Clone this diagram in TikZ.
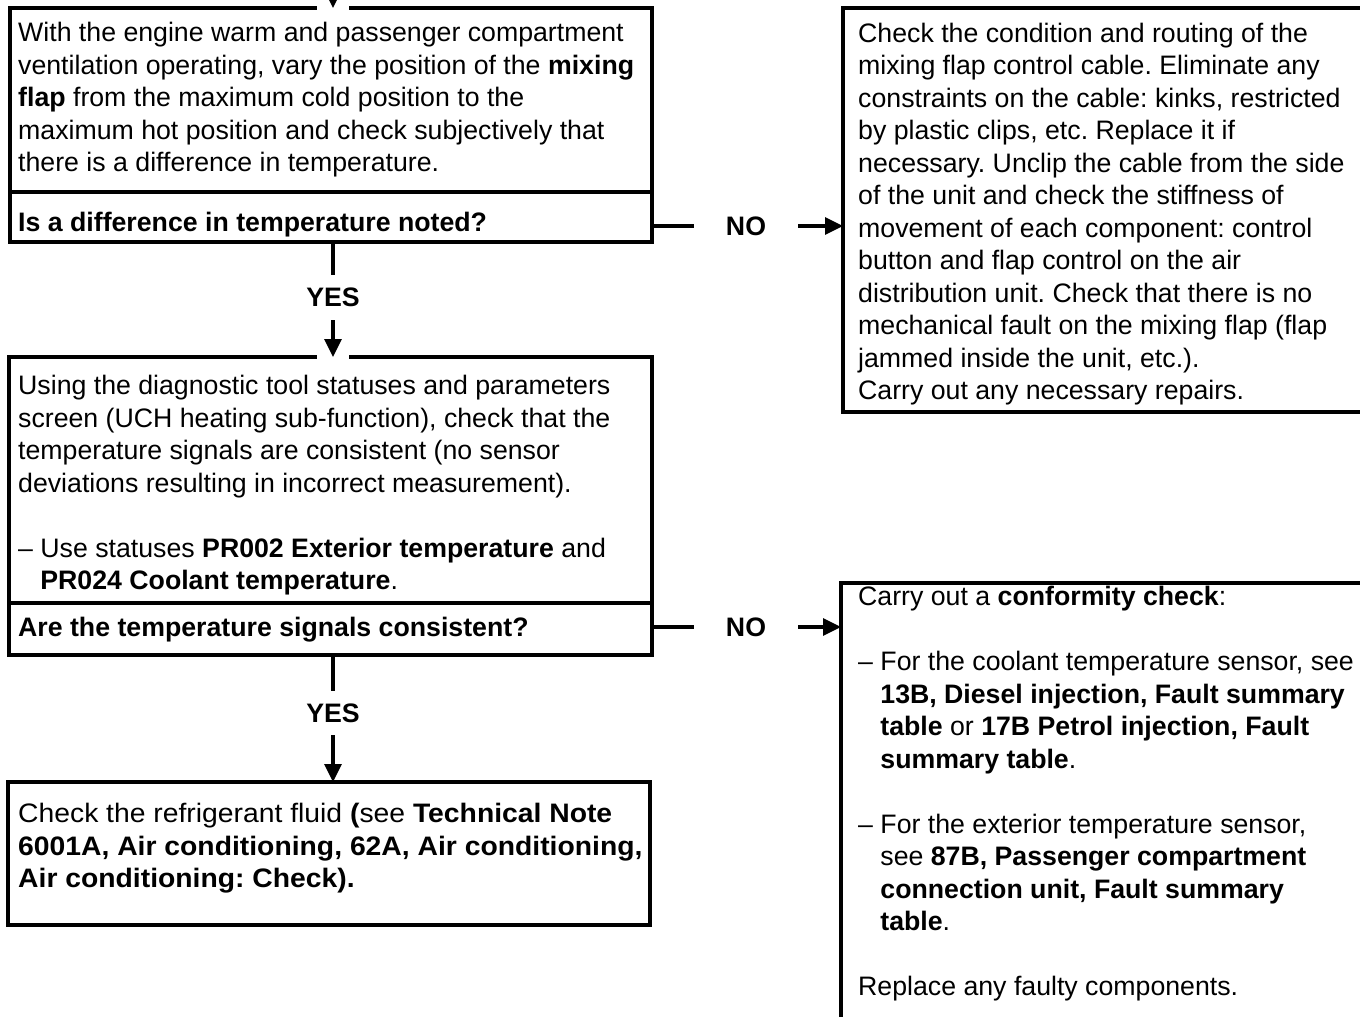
\documentclass[tikz,border=0pt]{standalone}
\usepackage{fontspec}
\setmainfont{Liberation Sans}
\usetikzlibrary{arrows.meta}
\frenchspacing
\newcommand\contindent{\hspace*{22.2pt}}
\begin{document}
\begin{tikzpicture}[x=1pt,y=-1pt,
  frame/.style={draw, line width=3.2pt, inner sep=0pt, outer sep=0pt, anchor=north west},
  body/.style={anchor=base west, inner sep=0pt, align=left, font=\fontsize{26.7}{32.5}\selectfont},
  lbl/.style={inner sep=0pt, font=\fontsize{26.7}{32.5}\selectfont\bfseries},
  link/.style={line width=3.2pt},
  arr/.style={link, -{Triangle[length=18pt,width=17pt]}},
  gap/.style={white, line width=5pt},
]
\useasboundingbox (0,0) rectangle (1360,1017);
\clip (0,0) rectangle (1360,1017);

% frames
\node[frame, minimum width=642pt, minimum height=234pt] (b1) at (10,8) {};
\node[frame, minimum width=600pt, minimum height=404pt] (r1) at (843,8) {};
\node[frame, minimum width=643pt, minimum height=298pt] (b2) at (9,357) {};
\node[frame, minimum width=600pt, minimum height=600pt] (r2) at (841,583) {};
\node[frame, minimum width=642pt, minimum height=143pt] (b3) at (8,782) {};

% dividers above the questions
\draw[link] ([yshift=-184pt]b1.north west) -- ([yshift=-184pt]b1.north east);
\draw[link] ([yshift=-246pt]b2.north west) -- ([yshift=-246pt]b2.north east);

% texts (each placed by the baseline of its last line)
\node[body] (t1) at (18,171.5) {With the engine warm and passenger compartment\\
ventilation operating, vary the position of the \textbf{mixing}\\
\textbf{flap} from the maximum cold position to the\\
maximum hot position and check subjectively that\\
there is a difference in temperature.};
\node[body, font=\fontsize{26.7}{32.5}\selectfont\bfseries] (q1) at (18,231.5) {Is a difference in temperature noted?};

\node[body] (tr1) at (858,399.5) {Check the condition and routing of the\\
mixing flap control cable. Eliminate any\\
constraints on the cable: kinks, restricted\\
by plastic clips, etc. Replace it if\\
necessary. Unclip the cable from the side\\
of the unit and check the stiffness of\\
movement of each component: control\\
button and flap control on the air\\
distribution unit. Check that there is no\\
mechanical fault on the mixing flap (flap\\
jammed inside the unit, etc.).\\
Carry out any necessary repairs.};

\node[body] (t2) at (18,589.5) {Using the diagnostic tool statuses and parameters\\
screen (UCH heating sub-function), check that the\\
temperature signals are consistent (no sensor\\
deviations resulting in incorrect measurement).\\[32.5pt]
– Use statuses \textbf{PR002 Exterior temperature} and\\
\contindent\textbf{PR024 Coolant temperature}.};
\node[body, font=\fontsize{26.7}{32.5}\selectfont\bfseries] (q2) at (18,636.5) {Are the temperature signals consistent?};

\node[body, font=\fontsize{26.7}{32.5}\selectfont\addfontfeatures{FakeStretch=1.06}] (t3) at (18,887.5) {Check the refrigerant fluid \textbf{(}see \textbf{Technical Note}\\
\textbf{6001A, Air conditioning, 62A, Air conditioning,}\\
\textbf{Air conditioning: Check).}};

\node[body] (tr2) at (858,995.5) {Carry out a \textbf{conformity check}:\\[32.5pt]
– For the coolant temperature sensor, see\\
\contindent\textbf{13B, Diesel injection, Fault summary}\\
\contindent\textbf{table} or \textbf{17B Petrol injection, Fault}\\
\contindent\textbf{summary table}.\\[32.5pt]
– For the exterior temperature sensor,\\
\contindent see \textbf{87B, Passenger compartment}\\
\contindent\textbf{connection unit, Fault summary}\\
\contindent\textbf{table}.\\[32.5pt]
Replace any faulty components.};

% branch labels
\node[lbl, minimum height=45pt] (yes1) at (333,297.5) {YES};
\node[lbl, minimum height=44pt] (yes2) at (333,713) {YES};
\node[lbl, minimum width=104pt] (no1) at (746,226) {NO};
\node[lbl, minimum width=104pt] (no2) at (746,627) {NO};
\coordinate (entry) at (333,-20);

% white breaks in the frame tops where arrows enter
\draw[gap] ([xshift=-16pt]b1.north -| entry) -- ([xshift=16pt]b1.north -| entry);
\draw[gap] ([xshift=-16pt]b2.north -| yes1) -- ([xshift=16pt]b2.north -| yes1);

% connectors
\draw[arr] (entry) -- (b1.north -| entry);
\draw[link] (b1.south -| yes1) -- (yes1.north);
\draw[arr] (yes1.south) -- (b2.north -| yes1);
\draw[link] (b1.east |- no1) -- (no1.west);
\draw[arr] (no1.east) -- (r1.west |- no1);
\draw[link] (b2.south -| yes2) -- (yes2.north);
\draw[arr] (yes2.south) -- (b3.north -| yes2);
\draw[link] (b2.east |- no2) -- (no2.west);
\draw[arr] (no2.east) -- (r2.west |- no2);
\end{tikzpicture}
\end{document}
